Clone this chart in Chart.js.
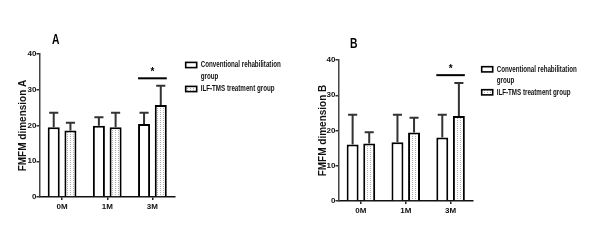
<!DOCTYPE html>
<html>
<head>
<meta charset="utf-8">
<script src="https://cdn.jsdelivr.net/npm/chart.js@4.4.0/dist/chart.umd.min.js"></script>
<style>
    html, body { margin: 0; padding: 0; background: #fff; }
    body { width: 600px; height: 246px; position: relative; overflow: hidden; }
    .panel { position: absolute; top: 0; width: 300px; height: 246px; }
</style>
</head>
<body>
<div class="panel" style="left:0"><canvas id="chartA" width="300" height="246"></canvas></div>
<div class="panel" style="left:300px"><canvas id="chartB" width="300" height="246"></canvas></div>
<script>
const timepoints = ['0M', '1M', '3M'];
const seriesNames = ['Conventional rehabilitation group', 'ILF-TMS treatment group'];
const yTicks = [0, 10, 20, 30, 40];

// FMFM dimension A (mean, SD drawn upward)
const convMeanA = [19.5, 19.9, 20.4];
const convSdA = [4.1, 2.4, 3.2];
const ilfMeanA = [18.6, 19.5, 25.7];
const ilfSdA = [2.2, 4.1, 5.4];

// FMFM dimension B
const convMeanB = [16.0, 16.7, 18.0];
const convSdB = [8.5, 7.8, 6.5];
const ilfMeanB = [16.3, 19.4, 24.1];
const ilfSdB = [3.2, 4.2, 9.4];

// significance bracket: category index, height, mark
const sigA = [2, 33.2, '*'];
const sigB = [2, 35.7, '*'];

const NARROW = '"Liberation Sans Narrow", "Liberation Sans", Arial, sans-serif';
const WIDE = '"Liberation Sans", Arial, sans-serif';

Chart.defaults.font.family = NARROW;
Chart.defaults.font.weight = 'bold';
Chart.defaults.color = '#111';

function dotPattern() {
    const c = document.createElement('canvas');
    c.width = 3;
    c.height = 2;
    const g = c.getContext('2d');
    g.fillStyle = '#fff';
    g.fillRect(0, 0, 3, 2);
    g.fillStyle = '#b0b0b0';
    g.fillRect(1, 0, 1, 1);
    return g.createPattern(c, 'repeat');
}

// the figure text is horizontally condensed
function squeezedText(ctx, text, x, y, sx) {
    ctx.save();
    ctx.translate(x, y);
    ctx.scale(sx, 1);
    ctx.fillText(text, 0, 0);
    ctx.restore();
}

function wrapWords(ctx, text, maxWidth, sx) {
    const words = text.split(' ');
    const lines = [];
    let line = '';
    words.forEach(w => {
        const test = line ? line + ' ' + w : w;
        if (line && ctx.measureText(test).width * sx > maxWidth) {
            lines.push(line);
            line = w;
        } else {
            line = test;
        }
    });
    lines.push(line);
    return lines;
}

const extrasPlugin = {
    id: 'extras',
    afterDatasetsDraw(chart, args, opts) {
        const ctx = chart.ctx;
        const y = chart.scales.y;
        ctx.save();
        // error bars (upper only)
        ctx.strokeStyle = '#333';
        ctx.lineWidth = 2;
        chart.data.datasets.forEach((ds, i) => {
            chart.getDatasetMeta(i).data.forEach((bar, j) => {
                const top = y.getPixelForValue(ds.data[j] + opts.sd[i][j]);
                const half = bar.width * 0.38;
                ctx.beginPath();
                ctx.moveTo(bar.x, bar.y);
                ctx.lineTo(bar.x, top);
                ctx.moveTo(bar.x - half, top);
                ctx.lineTo(bar.x + half, top);
                ctx.stroke();
            });
        });
        // significance line + asterisk
        const k = opts.sig[0];
        const b0 = chart.getDatasetMeta(0).data[k];
        const b1 = chart.getDatasetMeta(1).data[k];
        const ys = y.getPixelForValue(opts.sig[1]);
        ctx.strokeStyle = '#000';
        ctx.lineWidth = 2;
        ctx.beginPath();
        ctx.moveTo(b0.x - b0.width / 2, ys);
        ctx.lineTo(b1.x + b1.width / 2, ys);
        ctx.stroke();
        ctx.fillStyle = '#000';
        ctx.font = 'bold 10px ' + WIDE;
        ctx.textAlign = 'center';
        ctx.textBaseline = 'alphabetic';
        ctx.fillText(opts.sig[2], (b0.x + b1.x) / 2, ys + opts.starDy);
        ctx.restore();
    },
    afterDraw(chart, args, opts) {
        const ctx = chart.ctx;
        const area = chart.chartArea;
        ctx.save();
        ctx.fillStyle = '#000';
        ctx.textBaseline = 'middle';
        ctx.textAlign = 'center';
        ctx.font = 'bold 14px ' + WIDE;
        squeezedText(ctx, opts.letter, area.left + opts.letterAt[0], area.top + opts.letterAt[1], 0.74);

        // legend
        ctx.textAlign = 'left';
        ctx.font = 'bold 9px ' + WIDE;
        const bx = area.right + opts.legendAt[0];
        let ly = area.top + opts.legendAt[1];
        chart.data.datasets.forEach(ds => {
            ctx.fillStyle = ds.backgroundColor;
            ctx.fillRect(bx, ly - 2.6, 11, 5.2);
            ctx.strokeStyle = '#000';
            ctx.lineWidth = 1.6;
            ctx.strokeRect(bx, ly - 2.6, 11, 5.2);
            ctx.fillStyle = '#111';
            wrapWords(ctx, ds.label, 90, 0.69).forEach(line => {
                squeezedText(ctx, line, bx + 15, ly, 0.69);
                ly += opts.lineGap;
            });
        });
        ctx.restore();
    }
};

function buildPanel(canvasId, convMean, ilfMean, convSd, ilfSd, sig, look) {
    const ctx = document.getElementById(canvasId).getContext('2d');
    return new Chart(ctx, {
        type: 'bar',
        data: {
            labels: timepoints,
            datasets: [
                {
                    label: seriesNames[0],
                    data: convMean,
                    backgroundColor: '#fff',
                    borderColor: '#000',
                    borderWidth: 2,
                    categoryPercentage: 0.74,
                    barPercentage: 0.72
                },
                {
                    label: seriesNames[1],
                    data: ilfMean,
                    backgroundColor: dotPattern(),
                    borderColor: '#000',
                    borderWidth: 2,
                    categoryPercentage: 0.74,
                    barPercentage: 0.72
                }
            ]
        },
        options: {
            responsive: false,
            animation: false,
            devicePixelRatio: 1,
            layout: { padding: look.padding },
            scales: {
                x: {
                    offset: true,
                    border: { display: true, color: '#111', width: 1.5 },
                    grid: {
                        display: true,
                        drawOnChartArea: false,
                        drawTicks: true,
                        tickLength: 3,
                        offset: false,
                        color: '#222',
                        lineWidth: 1.5
                    },
                    ticks: { font: { size: 8, weight: 'bold' }, padding: 2, color: '#111' },
                    afterFit: (s) => { s.height = 22; }
                },
                y: {
                    min: 0,
                    max: 40,
                    border: { display: true, color: '#444', width: 1.5 },
                    grid: {
                        display: true,
                        drawOnChartArea: false,
                        drawTicks: true,
                        tickLength: 3,
                        color: '#333',
                        lineWidth: 1.5
                    },
                    ticks: { font: { size: 8, weight: 'bold' }, padding: 0, color: '#111' },
                    afterBuildTicks: (s) => { s.ticks = yTicks.map(v => ({ value: v })); },
                    title: {
                        display: true,
                        text: look.yTitle,
                        color: '#111',
                        font: { family: WIDE, size: 10, weight: 'bold' },
                        padding: { top: 5, bottom: 0 }
                    },
                    afterFit: (s) => { s.width = look.yWidth; }
                }
            },
            plugins: {
                legend: { display: false },
                title: { display: false },
                tooltip: { enabled: false },
                extras: {
                    sd: [convSd, ilfSd],
                    sig: sig,
                    starDy: -3,
                    letter: look.letter,
                    letterAt: look.letterAt,
                    legendAt: look.legendAt,
                    lineGap: look.lineGap
                }
            }
        },
        plugins: [extrasPlugin]
    });
}

document.addEventListener('DOMContentLoaded', () => {
    buildPanel('chartA', convMeanA, ilfMeanA, convSdA, ilfSdA, sigA, {
        letter: 'A',
        yTitle: 'FMFM dimension A',
        padding: { left: 12, top: 54, right: 125, bottom: 27 },
        yWidth: 27.5,
        letterAt: [16.3, -14],
        legendAt: [10.7, 11],
        lineGap: 12
    });
    buildPanel('chartB', convMeanB, ilfMeanB, convSdB, ilfSdB, sigB, {
        letter: 'B',
        yTitle: 'FMFM dimension B',
        padding: { left: 12, top: 60, right: 127, bottom: 23 },
        yWidth: 26.5,
        letterAt: [15.2, -16.2],
        legendAt: [8.7, 9.3],
        lineGap: 11.5
    });
});
</script>
</body>
</html>
